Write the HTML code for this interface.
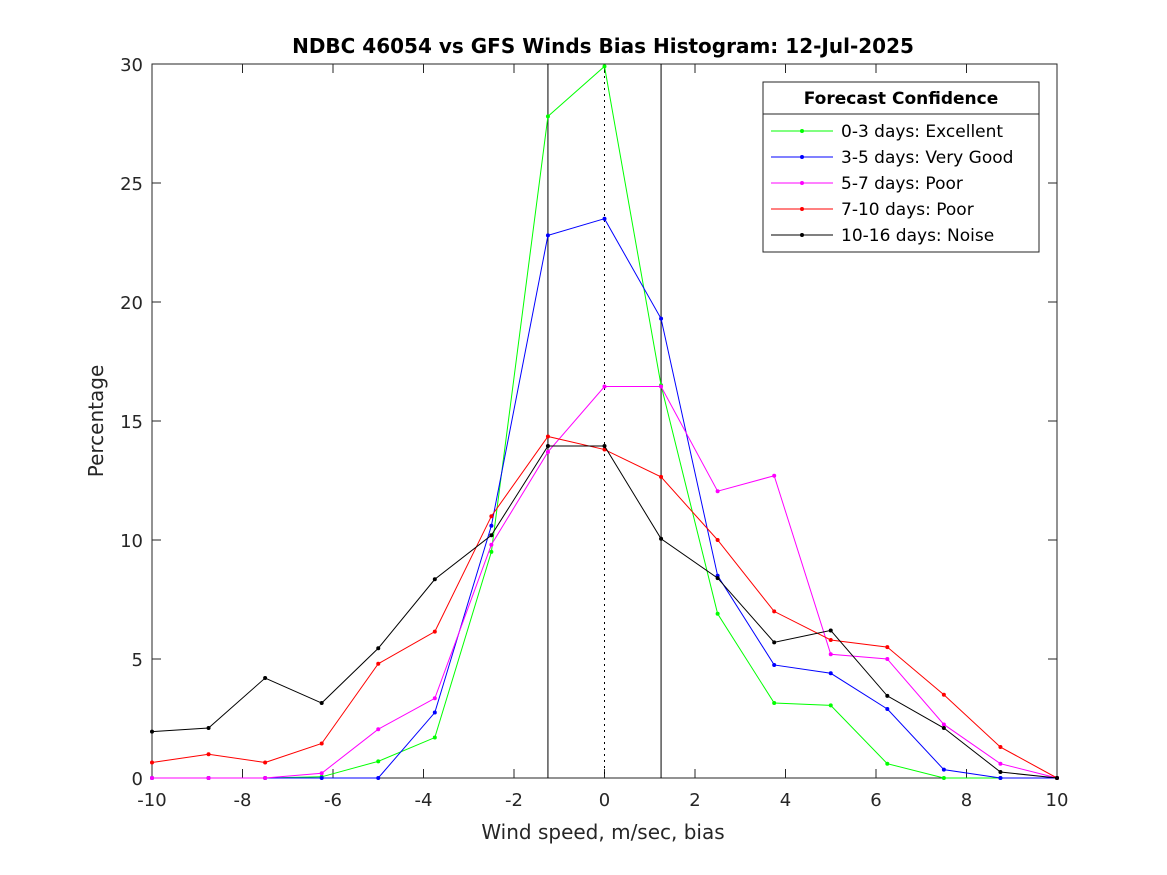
<!DOCTYPE html>
<html><head><meta charset="utf-8"><style>
body{margin:0;background:#fff;}
svg{display:block;font-family:"DejaVu Sans","Liberation Sans",sans-serif;}
</style></head><body>
<svg id="chart" width="1167" height="875">
<rect width="1167" height="875" fill="#fff"/>
<text x="603" y="53" text-anchor="middle" font-size="20" font-weight="bold" fill="#000">NDBC 46054 vs GFS Winds Bias Histogram: 12-Jul-2025</text>
<text x="603" y="839" text-anchor="middle" font-size="20" fill="#262626">Wind speed, m/sec, bias</text>
<text transform="translate(103,421) rotate(-90)" text-anchor="middle" font-size="20" fill="#262626">Percentage</text>
<g id="axes"></g>
<g id="marks"></g>
<g id="legend"></g>
</svg>
<script>
const xs=[-10,-8.75,-7.5,-6.25,-5,-3.75,-2.5,-1.25,0,1.25,2.5,3.75,5,6.25,7.5,8.75,10];
const green=[0,0,0,0.05,0.7,1.7,9.5,27.8,29.9,16.5,6.9,3.15,3.05,0.6,0,0,0];
const blue=[0,0,0,0,0,2.75,10.6,22.8,23.5,19.3,8.5,4.75,4.4,2.9,0.35,0,0];
const magenta=[0,0,0,0.2,2.05,3.35,9.8,13.7,16.45,16.45,12.05,12.7,5.2,5.0,2.25,0.6,0];
const red=[0.65,1.0,0.65,1.45,4.8,6.15,11.0,14.35,13.8,12.65,10.0,7.0,5.8,5.5,3.5,1.3,0];
const black=[1.95,2.1,4.2,3.15,5.45,8.35,10.2,13.95,13.95,10.05,8.4,5.7,6.2,3.45,2.1,0.25,0];
const xTicks=[-10,-8,-6,-4,-2,0,2,4,6,8,10];
const yTicks=[0,5,10,15,20,25,30];
const legendLabels=["0-3 days: Excellent","3-5 days: Very Good","5-7 days: Poor","7-10 days: Poor","10-16 days: Noise"];

const L=152,R=1057,T=64,B=778;
const X=v=>L+(v+10)/20*(R-L);
const Y=v=>B-v/30*(B-T);
const NS="http://www.w3.org/2000/svg";
function mk(tag,attrs,parent){const e=document.createElementNS(NS,tag);for(const k in attrs)e.setAttribute(k,attrs[k]);parent.appendChild(e);return e;}
const axes=document.getElementById('axes'),marks=document.getElementById('marks'),lg=document.getElementById('legend');
let r=mk('rect',{x:L,y:T,width:R-L,height:B-T,fill:'none',stroke:'#262626','stroke-width':1},axes);


xTicks.forEach(v=>{
 mk('line',{x1:X(v),x2:X(v),y1:B,y2:B-9,stroke:'#262626'},axes);
 mk('line',{x1:X(v),x2:X(v),y1:T,y2:T+9,stroke:'#262626'},axes);
 const t=mk('text',{x:X(v),y:B+28,'text-anchor':'middle','font-size':18,fill:'#262626'},axes);
 t.textContent=v;
 
 
});
yTicks.forEach(v=>{
 mk('line',{x1:L,x2:L+9,y1:Y(v),y2:Y(v),stroke:'#262626'},axes);
 mk('line',{x1:R,x2:R-9,y1:Y(v),y2:Y(v),stroke:'#262626'},axes);
 const t=mk('text',{x:L-9,y:Y(v)+7,'text-anchor':'end','font-size':18,fill:'#262626'},axes);
 t.textContent=v;
 
 
});
[-1.25,1.25].forEach(v=>{
 const l=mk('line',{x1:X(v),x2:X(v),y1:T,y2:B,stroke:'#000'},axes);
 
 
});
const zl=mk('line',{x1:X(0),x2:X(0),y1:T,y2:B,stroke:'#000','stroke-dasharray':'2,4'},axes);


const series=[[green,'#00ff00','series-0-3-days'],[blue,'#0000ff','series-3-5-days'],[magenta,'#ff00ff','series-5-7-days'],[red,'#ff0000','series-7-10-days'],[black,'#000000','series-10-16-days']];
series.forEach(([d,c,n])=>{
 const g=mk('g',{},marks);
 
 
 const p=mk('polyline',{points:d.map((v,i)=>X(xs[i])+','+Y(v)).join(' '),fill:'none',stroke:c,'stroke-width':1},g);
 
 
 d.forEach((v,i)=>{
  const pt=mk('circle',{cx:X(xs[i]),cy:Y(v),r:2,fill:c},g);
  
  
 });
});
mk('rect',{x:763,y:82,width:276,height:170,fill:'#fff',stroke:'#262626'},lg);
mk('line',{x1:763,x2:1039,y1:114,y2:114,stroke:'#262626'},lg);
const lt=mk('text',{x:901,y:104,'text-anchor':'middle','font-size':17,'font-weight':'bold',fill:'#000'},lg);
lt.textContent='Forecast Confidence';


legendLabels.forEach((s,i)=>{
 const y=131+i*26;
 const g=mk('g',{},lg);
 
 
 mk('line',{x1:771,x2:833,y1:y,y2:y,stroke:series[i][1]},g);
 mk('circle',{cx:802,cy:y,r:2,fill:series[i][1]},g);
 const t=mk('text',{x:841,y:y+6,'font-size':17,fill:'#000'},g);
 t.textContent=s;
});
</script>
</body></html>
